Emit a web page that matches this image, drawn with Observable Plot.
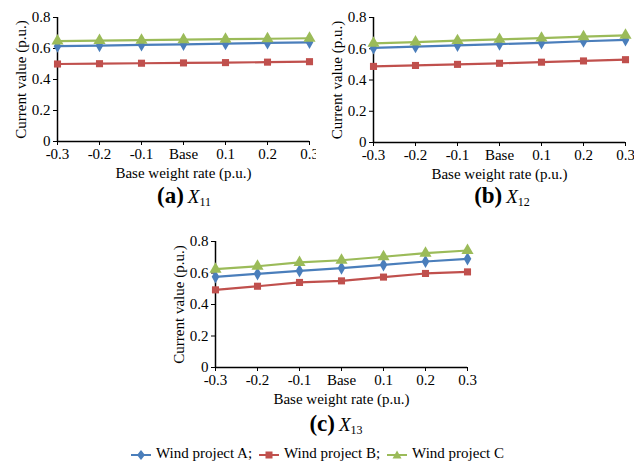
<!DOCTYPE html>
<html><head><meta charset="utf-8">
<script src="https://cdn.jsdelivr.net/npm/d3@7"></script>
<script src="https://cdn.jsdelivr.net/npm/@observablehq/plot@0.6"></script>
<style>
body{margin:0;background:#fff;width:634px;height:463px;position:relative;overflow:hidden;font-family:"Liberation Serif","Times New Roman",serif;}
.panel{position:absolute;}
.panel svg, .panel svg text{font-family:"Liberation Serif","Times New Roman",serif !important;font-size:15px !important;}
.cap{position:absolute;font-family:"Liberation Serif",serif;color:#000;white-space:nowrap;transform:translateX(-50%);}
.cap b{font-size:23px;}
.cap i{font-size:19px;}
.cap sub{font-size:12px;vertical-align:-3px;}
#legend{position:absolute;left:0;width:634px;top:445px;text-align:center;font-size:15px;white-space:nowrap;}
#legend span.item{margin:0 3px;}
#legend svg{vertical-align:middle;margin-right:4px;}
</style></head>
<body>
<div id="pa" class="panel" style="left:0;top:0"></div>
<div id="pb" class="panel" style="left:316px;top:0"></div>
<div id="pc" class="panel" style="left:158px;top:224px"></div>
<div class="cap" style="left:184px;top:183px"><b>(a)</b> <i>X</i><sub>11</sub></div>
<div class="cap" style="left:502px;top:183px"><b>(b)</b> <i>X</i><sub>12</sub></div>
<div class="cap" style="left:336px;top:411px"><b>(c)</b> <i>X</i><sub>13</sub></div>
<div id="legend"></div>
<script>
const categories = ["-0.3","-0.2","-0.1","Base","0.1","0.2","0.3"];
const seriesNames = ["Wind project A","Wind project B","Wind project C"];
const seriesColors = ["#4A7EBB","#C0504D","#9BBB59"];
const seriesSymbols = ["diamond","square","triangle"];
const yTicks = [0,0.2,0.4,0.6,0.8];

// Panel (a) X11
const a_A = [0.615,0.619,0.623,0.627,0.631,0.636,0.640];
const a_B = [0.500,0.502,0.505,0.507,0.509,0.512,0.515];
const a_C = [0.648,0.651,0.654,0.657,0.660,0.663,0.666];
// Panel (b) X12
const b_A = [0.605,0.613,0.622,0.630,0.638,0.648,0.657];
const b_B = [0.487,0.493,0.500,0.507,0.514,0.522,0.530];
const b_C = [0.635,0.643,0.652,0.660,0.668,0.677,0.686];
// Panel (c) X13
const c_A = [0.576,0.595,0.614,0.631,0.652,0.673,0.690];
const c_B = [0.493,0.516,0.540,0.550,0.574,0.597,0.607];
const c_C = [0.624,0.643,0.667,0.681,0.703,0.726,0.743];

function toRows(arrs){
  const rows=[];
  arrs.forEach((arr,si)=>arr.forEach((v,i)=>rows.push({cat:categories[i],value:v,series:seriesNames[si]})));
  return rows;
}

function panel(arrs, height){
  const data = toRows(arrs);
  const marks = [
    Plot.axisY({ticks:yTicks, tickSize:4, tickFormat:d=>d===0?"0":d.toFixed(1),
      label:"Current value (p.u.)", labelAnchor:"center", labelArrow:"none", labelOffset:42, tickPadding:3}),
    Plot.axisX({tickSize:4, label:"Base weight rate (p.u.)", labelAnchor:"center", labelArrow:"none", labelOffset:36, tickPadding:3}),
    Plot.ruleY([0],{stroke:"#000",strokeWidth:1.5}),
    Plot.ruleX([categories[0]],{stroke:"#000",strokeWidth:1.5}),
  ];
  seriesNames.forEach((s,si)=>{
    const d = data.filter(r=>r.series===s);
    marks.push(Plot.line(d,{x:"cat",y:"value",stroke:seriesColors[si],strokeWidth:2.2}));
    marks.push(Plot.dot(d,{x:"cat",y:"value",fill:seriesColors[si],symbol:()=>seriesSymbols[si],r:seriesSymbols[si]==="triangle"?4.5:4}));
  });
  return Plot.plot({
    width:318, height:height,
    marginLeft:57, marginRight:9, marginTop:17, marginBottom:39,
    style:{fontFamily:"'Liberation Serif', 'Times New Roman', serif", fontSize:"15px", color:"#000", background:"#fff", overflow:"visible"},
    x:{type:"point", domain:categories, padding:0},
    y:{domain:[0,0.8]},
    marks
  });
}

document.getElementById("pa").appendChild(panel([a_A,a_B,a_C],180));
document.getElementById("pb").appendChild(panel([b_A,b_B,b_C],181));
document.getElementById("pc").appendChild(panel([c_A,c_B,c_C],182));

// legend
const leg = document.getElementById("legend");
const shapes = {
  diamond:'<path d="M11 3 L15 8 L11 13 L7 8 Z"/>',
  square:'<rect x="7.5" y="4.5" width="7" height="7"/>',
  triangle:'<path d="M11 3.5 L15.5 11.5 L6.5 11.5 Z"/>'
};
seriesNames.forEach((s,si)=>{
  const sep = si<seriesNames.length-1 ? ";" : "";
  leg.insertAdjacentHTML("beforeend",
    `<span class="item"><svg width="22" height="16"><line x1="1" y1="8" x2="21" y2="8" stroke="${seriesColors[si]}" stroke-width="2"/><g fill="${seriesColors[si]}">${shapes[seriesSymbols[si]]}</g></svg>${s}${sep}</span>`);
});
</script>
</body></html>
